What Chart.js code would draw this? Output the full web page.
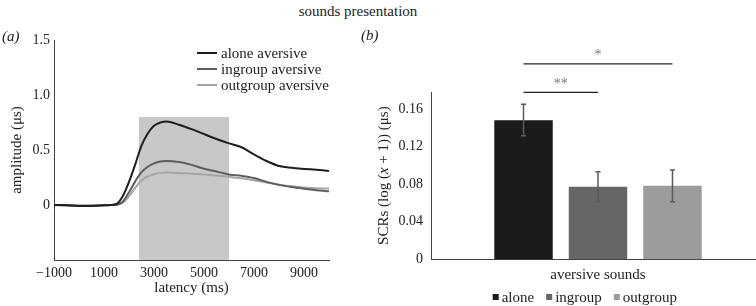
<!DOCTYPE html>
<html>
<head>
<meta charset="utf-8">
<script src="https://cdn.jsdelivr.net/npm/chart.js@4.4.1/dist/chart.umd.min.js"></script>
<style>
  html, body { margin: 0; padding: 0; background: #fff; overflow: hidden; }
  body { width: 756px; height: 306px; position: relative; font-family: "Liberation Serif", serif; color: #222; }
  #left { position: absolute; left: 0; top: 0; }
  #right { position: absolute; left: 345px; top: 0; }
  .lbl { position: absolute; font-size: 15px; line-height: 17px; white-space: nowrap; }
</style>
</head>
<body>
<div class="lbl" style="left:0;top:3px;width:716px;text-align:center">sounds presentation</div>
<canvas id="left" width="345" height="306"></canvas>
<canvas id="right" width="420" height="306"></canvas>
<div class="lbl" style="left:2px;top:28px"><i>(a)</i></div>
<div class="lbl" style="left:361px;top:27px"><i>(b)</i></div>
<script>
// panel (a): skin conductance over time
const latency = [-1000, -500, 0, 500, 1000, 1250, 1500, 1750, 2000, 2250, 2500, 2750, 3000, 3250, 3500,
                 4000, 4500, 5000, 5500, 6000, 6500, 7000, 7500, 8000, 8500, 9000, 9500, 10000];
const aloneAmp = [0, -0.003, -0.008, -0.008, -0.003, 0, 0.01, 0.08, 0.21, 0.37, 0.54, 0.65, 0.72, 0.75, 0.76,
                  0.73, 0.69, 0.645, 0.6, 0.56, 0.525, 0.46, 0.4, 0.355, 0.338, 0.328, 0.32, 0.31];
const ingroupAmp = [0, -0.003, -0.006, -0.006, -0.003, 0, 0.003, 0.03, 0.115, 0.215, 0.298, 0.348, 0.378, 0.395, 0.4,
                    0.39, 0.365, 0.33, 0.305, 0.278, 0.265, 0.245, 0.21, 0.183, 0.163, 0.148, 0.135, 0.125];
const outgroupAmp = [0, -0.002, -0.004, -0.004, -0.002, 0, 0.002, 0.02, 0.08, 0.155, 0.225, 0.26, 0.28, 0.292, 0.295,
                     0.292, 0.285, 0.278, 0.268, 0.256, 0.243, 0.226, 0.205, 0.185, 0.17, 0.16, 0.153, 0.15];
const seriesNames = ['alone aversive', 'ingroup aversive', 'outgroup aversive'];
const shadeRange = [2400, 6000];
const shadeTop = 0.8;
const xTicks = [-1000, 1000, 3000, 5000, 7000, 9000];
const yTicks = [0, 0.5, 1.0, 1.5];

// panel (b): mean SCRs
const groups = ['alone', 'ingroup', 'outgroup'];
const scrMean = [0.148, 0.0773, 0.0783];
const scrLow = [0.1315, 0.0613, 0.0613];
const scrHigh = [0.165, 0.0932, 0.095];
const barTicks = [0, 0.04, 0.08, 0.12, 0.16];
const sigPairs = [[0, 2], [0, 1]];
const sigLevel = [0.208, 0.1775];
const sigText = ['*', '**'];

const FONT = '"Liberation Serif", "Times New Roman", serif';
Chart.defaults.font.family = FONT;
Chart.defaults.color = '#222';

const lineColors = ['#1e1e1e', '#5e5e5e', '#a6a6a6'];
const barColors = ['#1a1a1a', '#666666', '#9c9c9c'];

const pts = ys => latency.map((x, i) => ({ x: x, y: ys[i] }));

const lineLegend = {
  id: 'lineLegend',
  afterDraw(chart) {
    const { ctx, chartArea } = chart;
    ctx.save();
    ctx.font = '15px ' + FONT;
    ctx.textBaseline = 'middle';
    ctx.lineWidth = 2;
    chart.data.datasets.filter(d => d.label).forEach((ds, i) => {
      const y = chartArea.top + 13 + i * 16;
      const x = chartArea.right - 132;
      ctx.strokeStyle = ds.borderColor;
      ctx.beginPath();
      ctx.moveTo(x, y);
      ctx.lineTo(x + 20, y);
      ctx.stroke();
      ctx.fillStyle = '#222';
      ctx.fillText(ds.label, x + 24, y + 1);
    });
    ctx.restore();
  }
};

new Chart(document.getElementById('left'), {
  type: 'line',
  data: {
    datasets: [
      {
        data: shadeRange.map(x => ({ x: x, y: shadeTop })),
        backgroundColor: '#c8c8c8', borderWidth: 0, pointRadius: 0, fill: 'start', order: 10
      },
      { label: seriesNames[0], data: pts(aloneAmp), borderColor: lineColors[0] },
      { label: seriesNames[1], data: pts(ingroupAmp), borderColor: lineColors[1] },
      { label: seriesNames[2], data: pts(outgroupAmp), borderColor: lineColors[2] }
    ]
  },
  options: {
    responsive: false,
    animation: false,
    layout: { padding: { top: 40, right: 16, left: 0, bottom: 0 } },
    elements: {
      line: { borderWidth: 2, cubicInterpolationMode: 'monotone', fill: false },
      point: { radius: 0 }
    },
    plugins: { legend: { display: false }, tooltip: { enabled: false } },
    scales: {
      x: {
        type: 'linear', min: -1000, max: 10000,
        afterBuildTicks: s => { s.ticks = xTicks.map(v => ({ value: v })); },
        afterFit: s => { s.height = 46; s.paddingLeft = 0; s.paddingRight = 0; },
        grid: { display: false, drawTicks: false },
        border: { color: '#444', width: 1 },
        ticks: { font: { size: 14 }, padding: 5, maxRotation: 0,
                 callback: v => v < 0 ? '\u2212' + Math.abs(v) : String(v) },
        title: { display: true, text: 'latency (ms)', font: { size: 15 }, padding: { top: 0, bottom: 9 } }
      },
      y: {
        min: -0.5, max: 1.5,
        afterBuildTicks: s => { s.ticks = yTicks.map(v => ({ value: v })); },
        afterFit: s => { s.width = 54; },
        grid: { display: false, drawTicks: false },
        border: { color: '#444', width: 1 },
        ticks: { font: { size: 14 }, padding: 4, callback: v => v === 0 ? '0' : v.toFixed(1) },
        title: { display: true, text: 'amplitude (\u03bcs)', font: { size: 15 }, padding: { top: 8 } }
      }
    }
  },
  plugins: [lineLegend]
});

// error bars, significance marks, y title and legend of panel (b)
const barExtras = {
  id: 'barExtras',
  afterDraw(chart) {
    const { ctx, chartArea } = chart;
    const ys = chart.scales.y;
    const cx = i => chart.getDatasetMeta(i).data[0].x;
    ctx.save();

    ctx.strokeStyle = '#5a5a5a';
    ctx.lineWidth = 1.5;
    groups.forEach((g, i) => {
      const x = cx(i), y1 = ys.getPixelForValue(scrLow[i]), y2 = ys.getPixelForValue(scrHigh[i]);
      ctx.beginPath();
      ctx.moveTo(x, y1); ctx.lineTo(x, y2);
      ctx.moveTo(x - 2.5, y1); ctx.lineTo(x + 2.5, y1);
      ctx.moveTo(x - 2.5, y2); ctx.lineTo(x + 2.5, y2);
      ctx.stroke();
    });

    sigPairs.forEach((p, k) => {
      const y = ys.getPixelForValue(sigLevel[k]);
      const x1 = cx(p[0]), x2 = cx(p[1]);
      ctx.strokeStyle = '#222';
      ctx.lineWidth = 1.2;
      ctx.beginPath();
      ctx.moveTo(x1, y); ctx.lineTo(x2, y);
      ctx.stroke();
      ctx.fillStyle = '#777';
      ctx.font = '14px ' + FONT;
      ctx.textAlign = 'center';
      ctx.textBaseline = 'middle';
      ctx.fillText(sigText[k], (x1 + x2) / 2, y - 8);
    });

    // rotated y title with italic x
    const parts = [['SCRs (log (', ''], ['x', 'italic '], [' + 1)) (\u03bcs)', '']];
    ctx.translate(39, (chartArea.top + chartArea.bottom) / 2);
    ctx.rotate(-Math.PI / 2);
    ctx.fillStyle = '#222';
    ctx.textAlign = 'left';
    ctx.textBaseline = 'middle';
    let total = 0;
    parts.forEach(p => { ctx.font = p[1] + '15px ' + FONT; total += ctx.measureText(p[0]).width; });
    let x = -total / 2;
    parts.forEach(p => {
      ctx.font = p[1] + '15px ' + FONT;
      ctx.fillText(p[0], x, 0);
      x += ctx.measureText(p[0]).width;
    });
    ctx.setTransform(1, 0, 0, 1, 0, 0);

    // legend below the axis
    ctx.font = '15px ' + FONT;
    ctx.textBaseline = 'middle';
    let lx = 147.7;
    const ly = 297;
    chart.data.datasets.forEach(ds => {
      ctx.fillStyle = ds.backgroundColor;
      ctx.fillRect(lx, ly - 3, 6, 6);
      ctx.fillStyle = '#222';
      ctx.fillText(ds.label, lx + 9, ly + 1);
      lx += 9 + ctx.measureText(ds.label).width + 12;
    });
    ctx.restore();
  }
};

new Chart(document.getElementById('right'), {
  type: 'bar',
  data: {
    labels: ['aversive sounds'],
    datasets: groups.map((g, i) => ({
      label: g, data: [scrMean[i]], backgroundColor: barColors[i], borderWidth: 0
    }))
  },
  options: {
    responsive: false,
    animation: false,
    layout: { padding: { top: 92, right: 0, left: 0, bottom: 21.7 } },
    datasets: { bar: { barPercentage: 0.785, categoryPercentage: 0.669 } },
    plugins: { legend: { display: false }, tooltip: { enabled: false } },
    scales: {
      x: {
        afterFit: s => { s.height = 25; s.paddingLeft = 0; s.paddingRight = 0; },
        grid: { display: false, drawTicks: false },
        border: { color: '#444', width: 1 },
        ticks: { font: { size: 15 }, padding: 7 }
      },
      y: {
        min: 0, max: 0.178,
        afterBuildTicks: s => { s.ticks = barTicks.map(v => ({ value: v })); },
        afterFit: s => { s.width = 86; },
        grid: { display: false, drawTicks: false },
        border: { color: '#444', width: 1 },
        ticks: { font: { size: 14 }, padding: 8, callback: v => v === 0 ? '0' : v.toFixed(2) }
      }
    }
  },
  plugins: [barExtras]
});
</script>
</body>
</html>
